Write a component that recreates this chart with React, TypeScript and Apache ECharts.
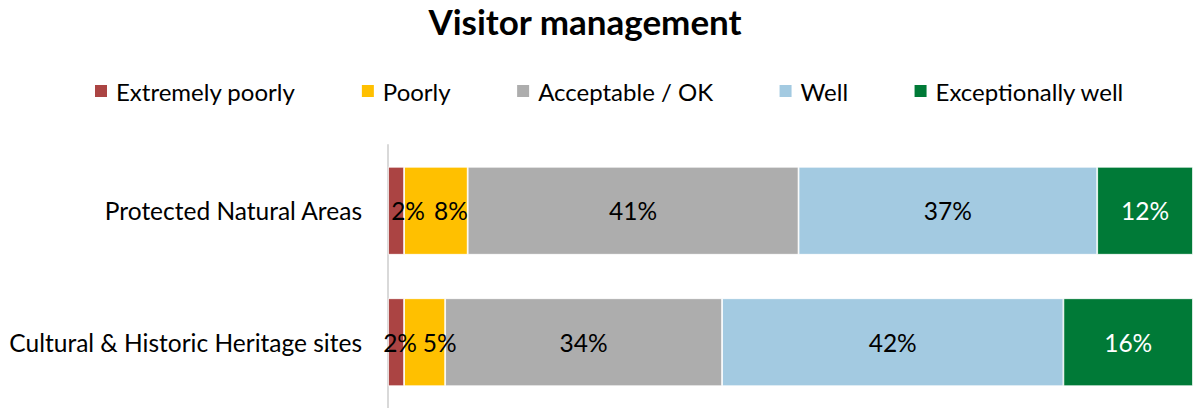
import React, { useEffect, useRef } from "react";
import * as echarts from "echarts";

const categories = ["Protected Natural Areas", "Cultural & Historic Heritage sites"];
const seriesNames = ["Extremely poorly", "Poorly", "Acceptable / OK", "Well", "Exceptionally well"];
const extremelyPoorly = [2.0, 2.0];
const poorly = [7.9, 5.1];
const acceptable = [41.1, 34.4];
const well = [37.1, 42.4];
const exceptionallyWell = [11.9, 16.1];
const colors = ["#AB4443", "#FFC000", "#ADADAD", "#A3CAE1", "#007A37"];
const labelColors = ["#000000", "#000000", "#000000", "#000000", "#FFFFFF"];
// horizontal nudges of crowded labels on narrow segments (series index -> per category)
const labelShifts: number[][] = [[12, 4], [15, 15], [0, 0], [0, 0], [0, 0]];

const FONT = "Lato, 'Noto Sans', sans-serif";
const FS = 24.5;

export default function App() {
  const ref = useRef<HTMLDivElement>(null);
  useEffect(() => {
    if (!ref.current) return;
    const chart = echarts.init(ref.current, undefined, { renderer: "svg" });
    const values = [extremelyPoorly, poorly, acceptable, well, exceptionallyWell];
    chart.setOption({
      animation: false,
      textStyle: { fontFamily: FONT },
      title: {
        text: "Visitor management",
        left: 580,
        textAlign: "center",
        top: -2,
        textStyle: { fontFamily: FONT, fontSize: 35, fontWeight: "bold", color: "#000" },
      },
      legend: {
        left: 88,
        top: 74,
        itemWidth: 14,
        itemHeight: 14,
        itemGap: 64.5,
        icon: "rect",
        textStyle: { fontFamily: FONT, fontSize: 24, color: "#000", padding: [0, 0, 0, 3] },
        data: seriesNames,
      },
      grid: { left: 388, right: 0, top: 145, height: 266 },
      xAxis: {
        type: "value",
        min: 0,
        max: 100,
        show: false,
      },
      yAxis: {
        type: "category",
        inverse: true,
        data: categories,
        axisLine: { show: true, lineStyle: { color: "#D9D9D9", width: 2 } },
        axisTick: { show: false },
        axisLabel: { fontFamily: FONT, fontSize: FS, color: "#000", margin: 26 },
      },
      series: seriesNames.map((name, i) => ({
        name,
        type: "bar",
        stack: "total",
        barWidth: 88,
        data: values[i].map((v, j) => ({
          value: v,
          label: { offset: [labelShifts[i][j], 0] },
        })),
        itemStyle: { color: colors[i], borderColor: "#FFFFFF", borderWidth: 0.8 },
        label: {
          show: true,
          position: "inside",
          fontFamily: FONT,
          fontSize: FS,
          color: labelColors[i],
          formatter: (p: any) => Math.round(p.value) + "%",
        },
      })),
    });
    return () => chart.dispose();
  }, []);
  return (
    <div
      ref={ref}
      style={{ position: "fixed", left: 0, top: 0, width: 1193, height: 408, background: "#fff" }}
    />
  );
}
